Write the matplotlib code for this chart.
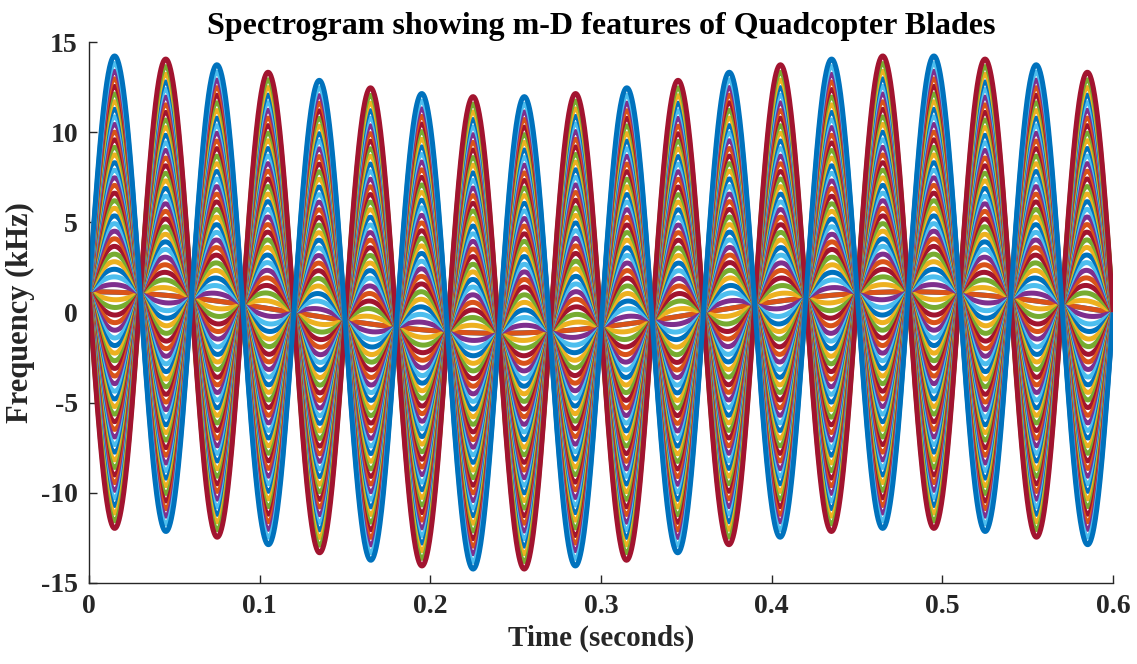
import numpy as np
import matplotlib
matplotlib.use('Agg')
import matplotlib.pyplot as plt

# blade point amplitudes (kHz)
amplitudes = [0.0, 0.42, 0.85, 1.27, 1.69, 2.11, 2.54, 2.96, 3.38, 3.80, 4.23,
              4.65, 5.07, 5.49, 5.92, 6.34, 6.76, 7.18, 7.61, 8.03, 8.45, 8.87,
              9.30, 9.72, 10.14, 10.56, 10.99, 11.41, 11.83, 12.25, 12.68, 13.10]
rotation_period = 0.06   # seconds per blade rotation
body_offset = 1.15       # kHz, slow bulk Doppler swing
body_period = 0.48       # seconds
t_end = 0.6

colors = ['#0072BD', '#D95319', '#EDB120', '#7E2F8E', '#77AC30', '#4DBEEE', '#A2142F']
xticks = [0, 0.1, 0.2, 0.3, 0.4, 0.5, 0.6]
xticklabels = ['0', '0.1', '0.2', '0.3', '0.4', '0.5', '0.6']
yticks = [-15, -10, -5, 0, 5, 10, 15]

plt.rcParams['font.family'] = ['Liberation Serif', 'DejaVu Serif']
plt.rcParams['font.weight'] = 'bold'
plt.rcParams['axes.unicode_minus'] = False
text_color = '#262626'

fig = plt.figure(figsize=(11.37, 6.64), dpi=100)
ax = fig.add_axes([0.0783, 0.122, 0.9007, 0.8147])

t = np.linspace(0, t_end, 3000)
offset = body_offset * np.cos(2 * np.pi * t / body_period)
blade = np.sin(2 * np.pi * t / rotation_period)

# two opposite blades per radius, colours cycle like matlab's default order
n = 0
for a in amplitudes:
    for sign in (-1, 1):
        ax.plot(t, offset + sign * a * blade, color=colors[n % 7], lw=3.6,
                solid_capstyle='butt')
        n += 1

ax.set_xlim(0, t_end)
ax.set_ylim(-15, 15)
ax.set_xticks(xticks)
ax.set_xticklabels(xticklabels)
ax.set_yticks(yticks)
ax.tick_params(direction='in', length=6, width=1, colors=text_color,
               labelsize=20, pad=8)
for lab in ax.get_xticklabels() + ax.get_yticklabels():
    lab.set_fontweight('bold')
ax.spines['top'].set_visible(False)
ax.spines['right'].set_visible(False)
for s in ('left', 'bottom'):
    ax.spines[s].set_color(text_color)
    ax.spines[s].set_linewidth(1)

ax.set_title('Spectrogram showing m-D features of Quadcopter Blades',
             fontsize=23, fontweight='bold', color='black', pad=6)
ax.set_xlabel('Time (seconds)', fontsize=21, fontweight='bold', color=text_color, labelpad=4)
ax.set_ylabel('Frequency (kHz)', fontsize=22, fontweight='bold', color=text_color, labelpad=4)

fig.savefig('out.png', dpi=100)
